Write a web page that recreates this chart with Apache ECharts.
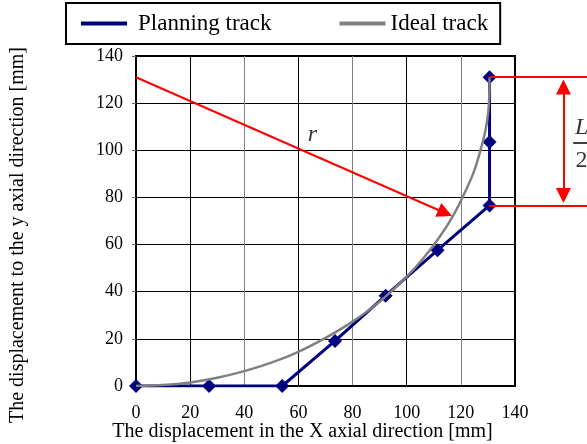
<!DOCTYPE html>
<html>
<head>
<meta charset="utf-8">
<script src="https://cdn.jsdelivr.net/npm/echarts@6/dist/echarts.min.js"></script>
<style>
  html, body { margin: 0; padding: 0; background: #fff; }
  #chart { width: 587px; height: 444px; }
</style>
</head>
<body>
<div id="chart"></div>
<script>
// Axis ranges (mm)
const xTickRange = { min: 0, max: 140, step: 20 };
const yTickRange = { min: 0, max: 140, step: 20 };

// Planning track: corner points of the discretised path
const planningX = [0, 27, 54, 73.5, 92.2, 111.4, 130.6, 130.6, 130.6];
const planningY = [0, 0, 0, 19.1, 38.3, 57.6, 76.6, 103.5, 131];

// Ideal track: the circular transition curve
const idealX = [0, 10, 20, 30, 40, 50, 60, 70, 80, 90, 100, 106, 112, 117, 121, 124.5, 127, 129, 130.1, 130.5, 130.6];
const idealY = [0, 0.4, 1.5, 3.5, 6.3, 9.9, 14.5, 20.4, 27.3, 35.8, 46.4, 54, 63, 72, 81, 90, 99, 108, 116, 123, 131];

// Annotation geometry in data units
const radiusArrow = [[0, 131], [114.2, 73.4]];
const spanTop = [[130.6, 131], [175, 131]];
const spanBottom = [[130.6, 76.6], [175, 76.6]];
const spanArrow = [[157.9, 126.9], [157.9, 80.8]];
const fractionBar = [[161.5, 103.3], [176, 103.3]];
const labelR = [65.2, 106.8];
const labelL = [164.6, 109.5];
const label2 = [164.6, 95.4];

const zip = (xs, ys) => xs.map((x, i) => [x, ys[i]]);
const serif = "'Liberation Serif'";

const chart = echarts.init(document.getElementById('chart'));
chart.setOption({
  animation: false,
  backgroundColor: '#fff',
  textStyle: { fontFamily: serif, color: '#000' },
  legend: {
    left: 66, top: 3,
    padding: [9, 12, 9, 15],
    borderColor: '#000', borderWidth: 2,
    itemWidth: 46, itemHeight: 4, itemGap: 68,
    icon: 'rect',
    textStyle: { fontFamily: serif, fontSize: 23, color: '#000' },
    data: [
      { name: 'Planning track', textStyle: { padding: [0, 0, 0, 6] } },
      { name: 'Ideal track' }
    ]
  },
  grid: {
    left: 136, right: 72, top: 56, bottom: 58,
    outerBoundsMode: 'none',
    show: true, borderColor: '#000', borderWidth: 2, backgroundColor: 'transparent'
  },
  xAxis: {
    type: 'value', min: xTickRange.min, max: xTickRange.max, interval: xTickRange.step,
    name: 'The displacement in the X axial direction [mm]',
    nameLocation: 'middle', nameGap: 36, nameMoveOverlap: false,
    nameTextStyle: { fontFamily: serif, fontSize: 20, color: '#000', padding: [0, 46, 0, 0] },
    axisLine: { show: true, lineStyle: { color: '#000', width: 2 } },
    axisTick: { show: false },
    axisLabel: { margin: 18, fontFamily: serif, fontSize: 18, color: '#000' },
    splitLine: { show: true, lineStyle: { color: ['#808080', '#000'], width: 1 } }
  },
  yAxis: {
    type: 'value', min: yTickRange.min, max: yTickRange.max, interval: yTickRange.step,
    name: 'The displacement to the y axial direction [mm]',
    nameLocation: 'middle', nameGap: 108, nameMoveOverlap: false,
    nameTextStyle: { fontFamily: serif, fontSize: 20, color: '#000', padding: [0, 28, 0, 0] },
    axisLine: { show: true, lineStyle: { color: '#000', width: 2 } },
    axisTick: { show: true, length: 4, lineStyle: { color: '#666' } },
    axisLabel: { margin: 13, fontFamily: serif, fontSize: 18, color: '#000' },
    splitLine: { show: true, lineStyle: { color: '#000', width: 1 } }
  },
  series: [
    {
      name: 'Planning track', type: 'line', z: 3,
      data: zip(planningX, planningY),
      color: '#000080',
      lineStyle: { color: '#000080', width: 3 },
      symbol: 'diamond', symbolSize: 14,
      itemStyle: { color: '#000080' }
    },
    {
      name: 'Ideal track', type: 'line', z: 4,
      data: zip(idealX, idealY),
      color: '#808080',
      smooth: 0.4,
      showSymbol: false, symbol: 'none',
      lineStyle: { color: '#808080', width: 2.5 }
    },
    {
      type: 'lines', coordinateSystem: 'cartesian2d', clip: false, z: 6,
      lineStyle: { color: '#ff0000', width: 2, opacity: 1 },
      symbol: ['none', 'none'], symbolSize: [15, 15],
      data: [
        { coords: radiusArrow, symbol: ['none', 'triangle'] },
        { coords: spanTop },
        { coords: spanBottom },
        { coords: spanArrow, symbol: ['triangle', 'triangle'] },
        { coords: fractionBar, lineStyle: { color: '#000', width: 1.5 } }
      ]
    },
    {
      type: 'scatter', clip: false, z: 7, symbolSize: 0, silent: true,
      label: { show: true, position: 'inside', fontFamily: serif, fontSize: 24, color: '#000' },
      data: [
        { value: labelR, label: { formatter: 'r', fontStyle: 'italic' } },
        { value: labelL, label: { formatter: 'L', fontStyle: 'italic' } },
        { value: label2, label: { formatter: '2' } }
      ]
    }
  ]
});
</script>
</body>
</html>
